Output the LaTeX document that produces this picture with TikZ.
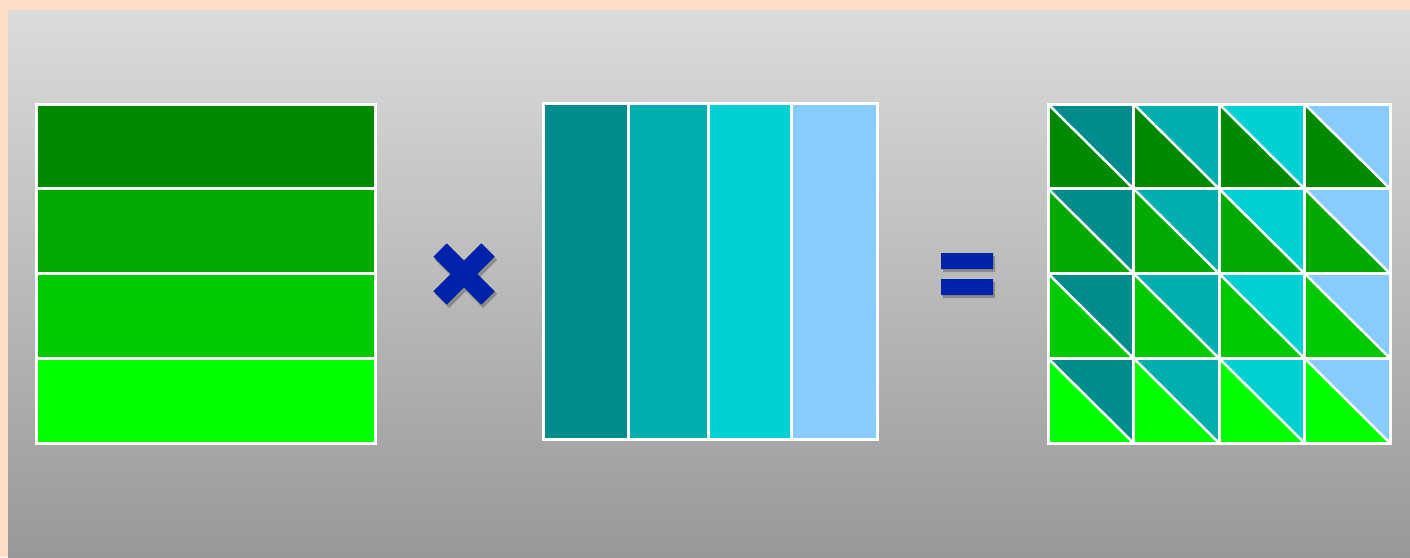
\documentclass[tikz,border=0pt]{standalone}
\definecolor{peach}{HTML}{FFDDC9}
\definecolor{bgtop}{HTML}{DCDCDC}
\definecolor{bgbot}{HTML}{989898}
\definecolor{gA}{HTML}{008A00}
\definecolor{gB}{HTML}{00AA00}
\definecolor{gC}{HTML}{00C900}
\definecolor{gD}{HTML}{00FF00}
\definecolor{tA}{HTML}{008C8C}
\definecolor{tB}{HTML}{00AEAE}
\definecolor{tC}{HTML}{00D0D4}
\definecolor{tD}{HTML}{88CCFF}
\definecolor{opblue}{HTML}{0022AA}
\tikzset{
  cellline/.style={draw=white, line width=3pt},
  shadowcol/.style={black, opacity=0.25}
}
\begin{document}
\begin{tikzpicture}[x=1pt,y=-1pt]
\useasboundingbox (0,0) rectangle (1410,557);
\fill[peach] (0,0) rectangle (1410,557);
\shade[top color=bgtop, bottom color=bgbot] (8,10) rectangle (1410,557);
% left square (rows)
\foreach \c [count=\i from 0] in {gA,gB,gC,gD}{
  \path[fill=\c, cellline] (36,{104+\i*84.75}) rectangle (375,{104+(\i+1)*84.75});
}
% middle square (columns)
\foreach \c/\a/\b in {tA/543/628, tB/628/708, tC/708/791, tD/791/877}{
  \path[fill=\c, cellline] (\a,103) rectangle (\b,439);
}
% times sign
\begin{scope}[shift={(2,3)}]
\draw[shadowcol, line width=20pt] (440,250) -- (488,298) (488,250) -- (440,298);
\end{scope}
\draw[opblue, line width=19pt] (440,250) -- (488,298) (488,250) -- (440,298);
% equals sign
\fill[shadowcol] (943,256) rectangle (995,272) (943,282) rectangle (995,298);
\fill[opblue] (941,253) rectangle (993,269) (941,279) rectangle (993,295);
% product grid
\foreach \gc [count=\r from 0] in {gA,gB,gC,gD}{
  \foreach \tc [count=\k from 0] in {tA,tB,tC,tD}{
    \pgfmathsetmacro{\xa}{1048+\k*85.5}
    \pgfmathsetmacro{\xb}{1048+(\k+1)*85.5}
    \pgfmathsetmacro{\ya}{104+\r*84.75}
    \pgfmathsetmacro{\yb}{104+(\r+1)*84.75}
    \fill[\tc] (\xa,\ya) -- (\xb,\ya) -- (\xb,\yb) -- cycle;
    \fill[\gc] (\xa,\ya) -- (\xa,\yb) -- (\xb,\yb) -- cycle;
    \draw[cellline] (\xa,\ya) rectangle (\xb,\yb);
    \draw[white, line width=2.5pt] (\xa,\ya) -- (\xb,\yb);
  }
}
\end{tikzpicture}
\end{document}
